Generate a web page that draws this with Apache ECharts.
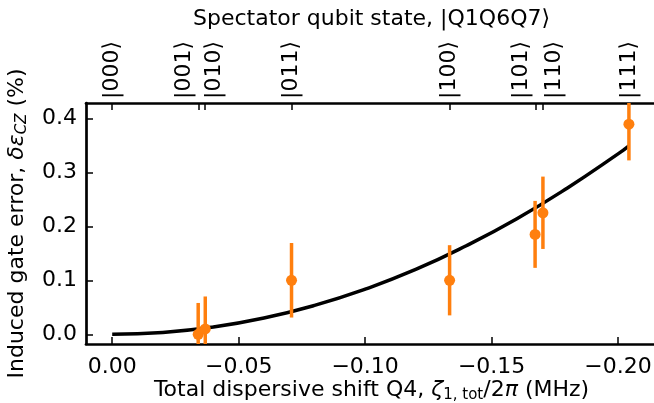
<!DOCTYPE html>
<html>
<head>
<meta charset="utf-8">
<script src="https://cdn.jsdelivr.net/npm/echarts@6/dist/echarts.min.js"></script>
<style>
    html, body {margin: 0; padding: 0; background: #fff;}
    #chart {width: 654px; height: 403px;}
</style>
</head>
<body>
<div id="chart"></div>
<script>
/*测量数据：总色散位移 (MHz) 与 门误差 (%)*/
var shiftVals = [-0.0340, -0.0368, -0.0709, -0.1334, -0.1672, -0.1703, -0.2043];
var errorVals = [0.000, 0.010, 0.100, 0.100, 0.185, 0.225, 0.389];
var errorBars = [0.058, 0.060, 0.069, 0.065, 0.062, 0.067, 0.067];

/*拟合曲线（从图上读出的取样点）*/
var fitX = [0, -0.02, -0.04, -0.06, -0.08, -0.10, -0.12, -0.14, -0.16, -0.18, -0.20, -0.2043];
var fitY = [0, 0.0033, 0.0134, 0.0301, 0.0535, 0.0835, 0.120, 0.164, 0.214, 0.271, 0.334, 0.349];

/*刻度*/
var bottomTicks = [0, -0.05, -0.10, -0.15, -0.20];
var leftTicks = [0, 0.1, 0.2, 0.3, 0.4];
var topTickPos = [0, -0.0343, -0.0365, -0.0708, -0.1334, -0.1674, -0.1703, -0.2043];
/*上方标签的位置（相近的标签被分开）*/
var topLabelPos = [0, -0.0285, -0.0402, -0.0708, -0.1334, -0.1619, -0.1747, -0.2043];
var topTickLabels = ['|000⟩', '|001⟩', '|010⟩', '|011⟩', '|100⟩', '|101⟩', '|110⟩', '|111⟩'];

var FONT = 'DejaVu Sans';
var FS = 22;
var ORANGE = '#ff7f0e';

function pairs(a, b) {
    var out = [];
    for (var i = 0; i < a.length; i++) {
        out.push([a[i], b[i]]);
    }
    return out;
}

function fmtBottom(v) {
    if (Math.abs(v) < 1e-9) return '0.00';
    return (v < 0 ? '\u2212' : '') + Math.abs(v).toFixed(2);
}

function fmtTop(v) {
    var best = 0;
    for (var i = 0; i < topLabelPos.length; i++) {
        if (Math.abs(topLabelPos[i] - v) < Math.abs(topLabelPos[best] - v)) best = i;
    }
    return topTickLabels[best];
}

var axisLineStyle = {color: '#000', width: 2.7};
var tickStyle = {color: '#000', width: 1.5};

var richText = {
    t: {fontFamily: FONT, fontSize: FS, color: '#000', lineHeight: 26},
    i: {fontFamily: FONT, fontSize: FS, color: '#000', fontStyle: 'italic', lineHeight: 26},
    s: {fontFamily: FONT, fontSize: 15, color: '#000', lineHeight: 15, verticalAlign: 'bottom'},
    si: {fontFamily: FONT, fontSize: 15, color: '#000', fontStyle: 'italic', lineHeight: 15, verticalAlign: 'bottom'}
};

var myChart = echarts.init(document.getElementById('chart'), null, {renderer: 'canvas'});

var option = {
    animation: false,
    backgroundColor: '#fff',
    grid: {left: 86, right: -3, top: 103, bottom: 59, containLabel: false, outerBoundsMode: 'none'},
    xAxis: [{
        type: 'value',
        position: 'bottom',
        inverse: true,
        min: -0.2154,
        max: 0.01036,
        name: '{t|Total dispersive shift Q4, }{i|ζ}{s|1, tot}{t|/2}{i|π}{t| (MHz)}',
        nameLocation: 'middle',
        nameGap: 33,
        nameMoveOverlap: false,
        nameTextStyle: {rich: richText},
        axisLine: {show: true, onZero: false, lineStyle: axisLineStyle},
        axisTick: {show: true, inside: true, length: 7, lineStyle: tickStyle, customValues: bottomTicks},
        axisLabel: {
            fontFamily: FONT, fontSize: FS, color: '#000', margin: 12,
            customValues: bottomTicks, formatter: fmtBottom
        },
        splitLine: {show: false}
    }, {
        type: 'value',
        position: 'top',
        inverse: true,
        min: -0.2154,
        max: 0.01036,
        name: 'Spectator qubit state, |Q1Q6Q7⟩',
        nameLocation: 'middle',
        nameGap: 73,
        nameMoveOverlap: false,
        nameTextStyle: {fontFamily: FONT, fontSize: FS, color: '#000'},
        axisLine: {show: true, onZero: false, lineStyle: axisLineStyle},
        axisTick: {show: true, inside: true, length: 7, lineStyle: tickStyle, customValues: topTickPos},
        axisLabel: {
            fontFamily: FONT, fontSize: FS, color: '#000', margin: 4, rotate: -90,
            customValues: topLabelPos, formatter: fmtTop, hideOverlap: false
        },
        splitLine: {show: false}
    }],
    yAxis: {
        type: 'value',
        min: -0.018,
        max: 0.4283,
        name: '{t|Induced gate error, }{i|δε}{si|CZ}{t| (%)}',
        nameLocation: 'middle',
        nameGap: 56,
        nameRotate: 90,
        nameMoveOverlap: false,
        nameTextStyle: {rich: richText},
        axisLine: {show: true, onZero: false, lineStyle: axisLineStyle},
        axisTick: {show: true, inside: true, length: 7, lineStyle: tickStyle, customValues: leftTicks},
        axisLabel: {
            fontFamily: FONT, fontSize: FS, color: '#000', margin: 9,
            customValues: leftTicks, formatter: function (v) { return v.toFixed(1); }
        },
        splitLine: {show: false}
    },
    series: [{
        name: 'fit',
        type: 'line',
        xAxisIndex: 0,
        data: pairs(fitX, fitY),
        smooth: true,
        showSymbol: false,
        lineStyle: {color: '#000', width: 3.5},
        z: 2
    }, {
        name: 'errbar',
        type: 'custom',
        xAxisIndex: 0,
        clip: true,
        data: shiftVals.map(function (x, i) { return [x, errorVals[i] - errorBars[i], errorVals[i] + errorBars[i]]; }),
        renderItem: function (params, api) {
            var lo = api.coord([api.value(0), api.value(1)]);
            var hi = api.coord([api.value(0), api.value(2)]);
            return {
                type: 'line',
                shape: {x1: lo[0], y1: lo[1], x2: hi[0], y2: hi[1]},
                style: {stroke: ORANGE, lineWidth: 3.5}
            };
        },
        z: 3
    }, {
        name: 'data',
        type: 'scatter',
        xAxisIndex: 0,
        data: pairs(shiftVals, errorVals),
        symbol: 'circle',
        symbolSize: 11,
        itemStyle: {color: ORANGE, opacity: 1},
        z: 4
    }]
};

myChart.setOption(option);
</script>
</body>
</html>
